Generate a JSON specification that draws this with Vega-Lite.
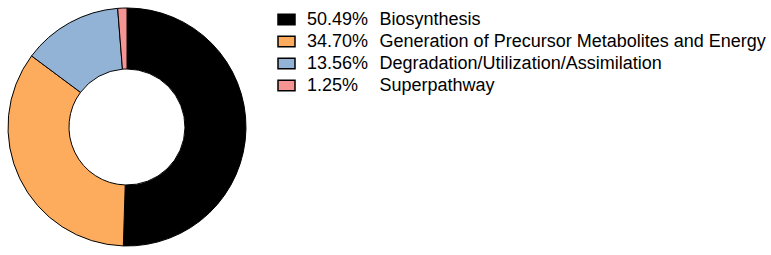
{
  "$schema": "https://vega.github.io/schema/vega-lite/v6.json",
  "width": 254,
  "height": 254,
  "padding": 0,
  "autosize": {"type": "pad"},
  "background": "white",
  "view": {"stroke": null},
  "data": {
    "values": [
      {"name": "Biosynthesis", "pct": 50.49, "ord": 1},
      {"name": "Generation of Precursor Metabolites and Energy", "pct": 34.70, "ord": 2},
      {"name": "Degradation/Utilization/Assimilation", "pct": 13.56, "ord": 3},
      {"name": "Superpathway", "pct": 1.25, "ord": 4}
    ]
  },
  "mark": {"type": "arc", "outerRadius": 119, "innerRadius": 58, "stroke": "black", "strokeWidth": 1},
  "encoding": {
    "theta": {"field": "pct", "type": "quantitative", "stack": true},
    "order": {"field": "ord", "type": "quantitative", "sort": "ascending"},
    "color": {
      "field": "name",
      "type": "nominal",
      "sort": ["Biosynthesis", "Generation of Precursor Metabolites and Energy", "Degradation/Utilization/Assimilation", "Superpathway"],
      "scale": {
        "domain": ["Biosynthesis", "Generation of Precursor Metabolites and Energy", "Degradation/Utilization/Assimilation", "Superpathway"],
        "range": ["#000000", "#fdab5c", "#93b3d6", "#f59492"]
      },
      "legend": {
        "title": null,
        "orient": "none",
        "legendX": 277,
        "legendY": 10,
        "symbolType": "M-1,-0.62L1,-0.62L1,0.62L-1,0.62Z",
        "symbolSize": 289,
        "symbolStrokeColor": "black",
        "symbolStrokeWidth": 1.5,
        "symbolOpacity": 1,
        "labelFont": "Liberation Sans, Arial",
        "labelFontSize": 18,
        "labelColor": "black",
        "labelOffset": 11,
        "labelLimit": 600,
        "rowPadding": 3,
        "labelExpr": "datum.label == 'Biosynthesis' ? '50.49%\u00a0\u00a0\u200aBiosynthesis' : datum.label == 'Superpathway' ? '1.25%\u00a0\u00a0\u00a0\u00a0\u200aSuperpathway' : datum.label == 'Degradation/Utilization/Assimilation' ? '13.56%\u00a0\u00a0\u200aDegradation/Utilization/Assimilation' : '34.70%\u00a0\u00a0\u200aGeneration of Precursor Metabolites and Energy'"
      }
    }
  }
}
